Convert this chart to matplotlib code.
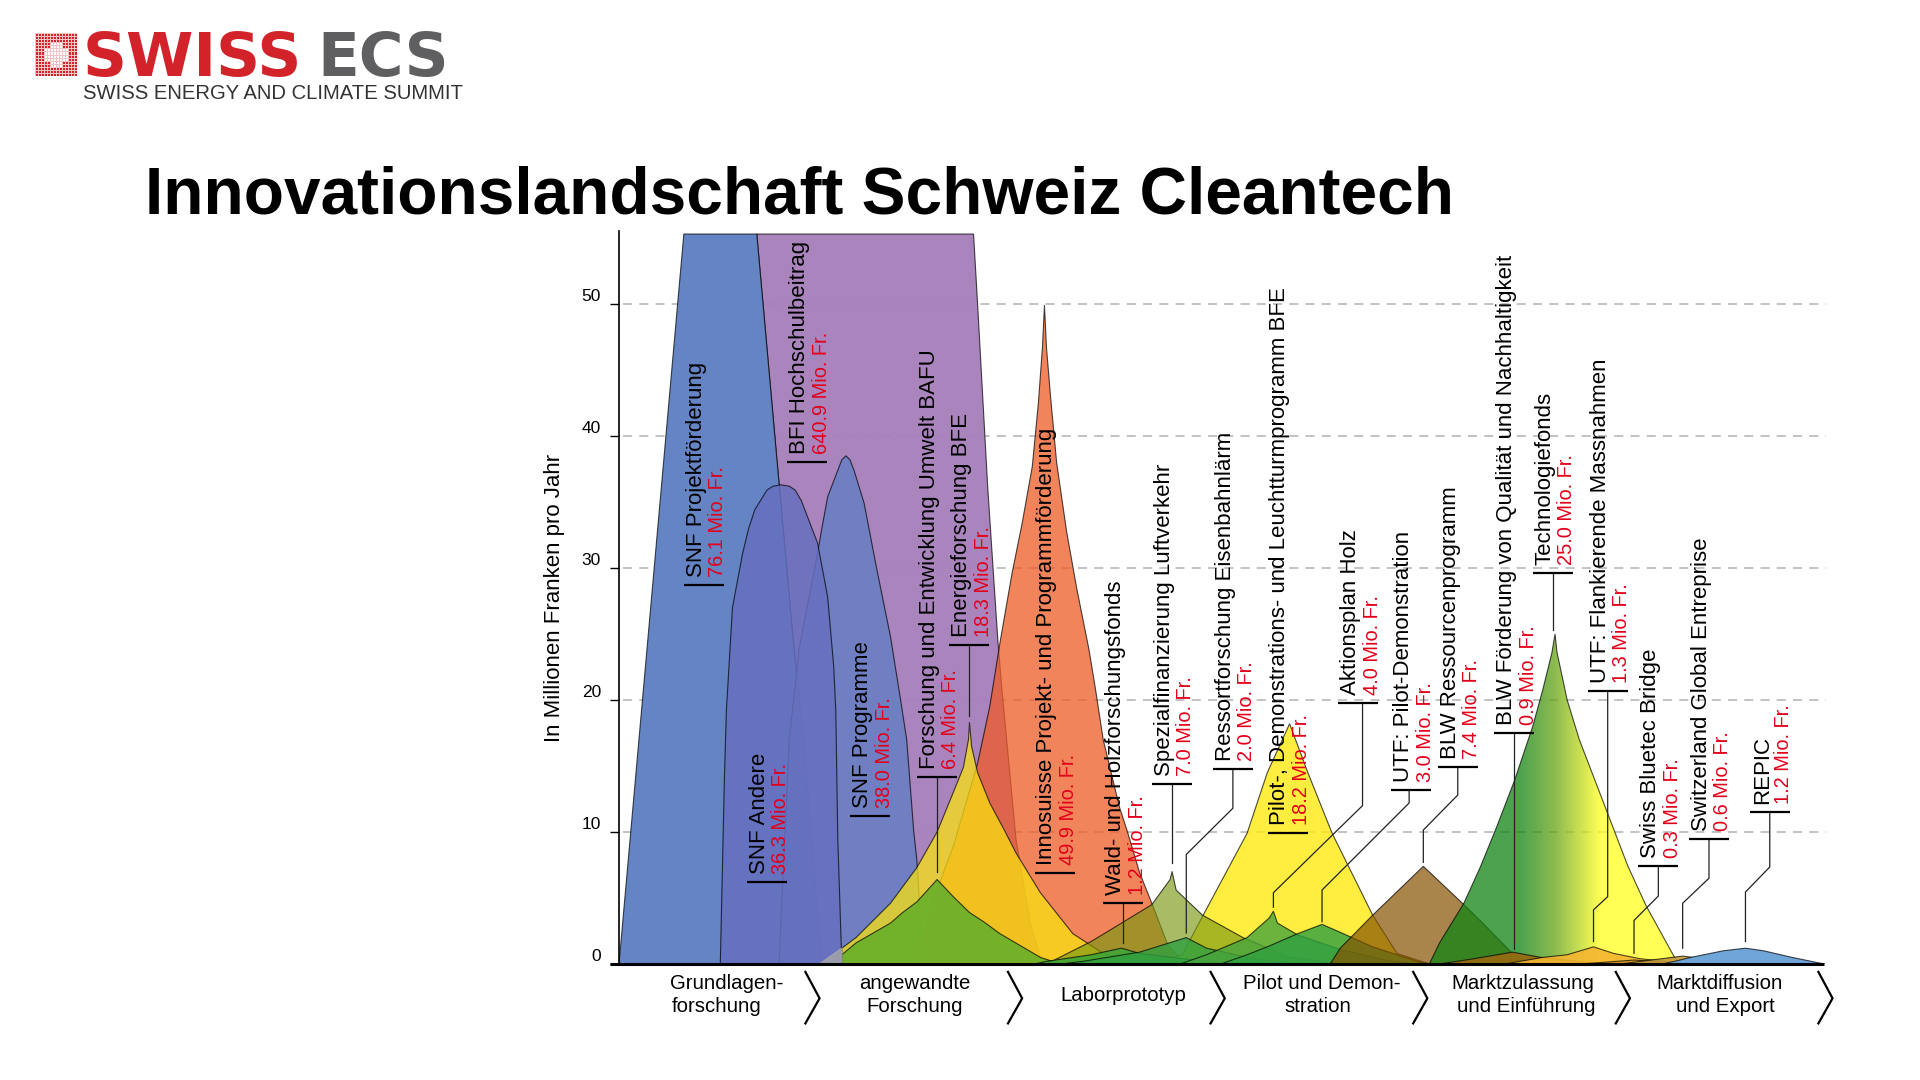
import matplotlib
matplotlib.use("Agg")
import matplotlib.pyplot as plt
import numpy as np
from matplotlib.colors import LinearSegmentedColormap, to_rgba
from matplotlib.patches import Polygon

plt.rcParams['font.family'] = ['Liberation Sans', 'DejaVu Sans']

# x is the position along the innovation chain (1 unit = one stage), y is Mio. Fr. per year
stages = [['Grundlagen-', 'forschung'], ['angewandte', 'Forschung'], ['Laborprototyp'],
          ['Pilot und Demon-', 'stration'], ['Marktzulassung', 'und Einführung'],
          ['Marktdiffusion', 'und Export']]
y_ticks = [0, 10, 20, 30, 40, 50]

names = ['SNF Projektförderung', 'BFI Hochschulbeitrag', 'SNF Andere', 'SNF Programme',
         'Forschung und Entwicklung Umwelt BAFU', 'Energieforschung BFE',
         'Innosuisse Projekt- und Programmförderung', 'Wald- und Holzforschungsfonds',
         'Spezialfinanzierung Luftverkehr', 'Ressortforschung Eisenbahnlärm',
         'Pilot-, Demonstrations- und Leuchtturmprogramm BFE', 'Aktionsplan Holz',
         'UTF: Pilot-Demonstration', 'BLW Ressourcenprogramm',
         'BLW Förderung von Qualität und Nachhaltigkeit', 'Technologiefonds',
         'UTF: Flankierende Massnahmen', 'Swiss Bluetec Bridge',
         'Switzerland Global Entreprise', 'REPIC']
amounts = ['76.1', '640.9', '36.3', '38.0', '6.4', '18.3', '49.9', '1.2', '7.0', '2.0',
           '18.2', '4.0', '3.0', '7.4', '0.9', '25.0', '1.3', '0.3', '0.6', '1.2']

# curves
bfi_x = [1.00, 0.91, 0.86, 0.79, 0.68, 1.75, 1.77, 1.82, 1.87, 1.89, 1.96, 2.03, 2.08, 2.10]
bfi_y = [0, 17.0, 24.5, 36.4, 55.3, 55.3, 50, 36.1, 24.5, 20.8, 9.4, 3.1, 0.5, 0]
snf_projekt_x = [0.00, 0.32, 0.68, 0.79, 0.86, 0.91, 1.00]
snf_projekt_y = [0, 55.3, 55.3, 36.4, 24.5, 17.0, 0]
snf_programme_x = [0.79, 0.84, 0.88, 0.89, 0.98, 1.00, 1.03, 1.08, 1.10, 1.12, 1.14, 1.16, 1.21, 1.27, 1.34, 1.39,
                   1.42, 1.455, 1.47, 1.49, 1.50]
snf_programme_y = [0, 17.0, 22.5, 24.0, 31.1, 32.9, 35.4, 37.4, 38.2, 38.5, 38.2, 37.4, 34.9, 30.1, 24.8, 20.0,
                   17.0, 10.0, 7.9, 3.1, 0]
snf_andere_x = [0.50, 0.51, 0.52, 0.53, 0.56, 0.61, 0.64, 0.67, 0.73, 0.76, 0.80, 0.84, 0.87, 0.90, 0.93, 0.98,
                1.03, 1.06, 1.07, 1.08, 1.10]
snf_andere_y = [0, 6.9, 13.9, 19.2, 27.0, 31.1, 33.0, 34.4, 35.9, 36.2, 36.3, 36.2, 35.9, 35.1, 33.9, 31.9,
                27.8, 22.5, 19.2, 9.4, 0]
inno_x = [1.39, 1.42, 1.50, 1.60, 1.65, 1.77, 1.83, 1.88, 1.94, 1.99, 2.04, 2.07, 2.09, 2.10, 2.11, 2.13, 2.16,
          2.21, 2.26, 2.32, 2.35, 2.39, 2.47, 2.51, 2.57, 2.63, 2.71, 2.78, 2.84]
inno_y = [0, 0.3, 2.3, 6.9, 8.9, 15.2, 19.5, 24.3, 29.6, 33.4, 37.7, 42.5, 46.7, 49.9, 46.7, 43.0, 38.0,
          32.7, 28.4, 23.8, 21.0, 17.0, 11.9, 10, 6.9, 4.6, 1.4, 0.3, 0]
bfe_x = [1.10, 1.10, 1.17, 1.34, 1.47, 1.57, 1.65, 1.70, 1.725, 1.73, 1.74, 1.77, 1.83, 1.90, 1.96, 2.08, 2.24, 2.39, 2.57]
bfe_y = [0, 1.2, 2.0, 4.6, 7.3, 10, 13.0, 14.9, 17.0, 18.3, 16.5, 14.5, 12.2, 10.2, 8.4, 5.4, 2.3, 0.8, 0]
bafu_x = [1.10, 1.10, 1.17, 1.34, 1.40, 1.47, 1.57, 1.65, 1.73, 1.80, 1.88, 2.08, 2.18]
bafu_y = [0, 0.7, 1.6, 3.1, 3.9, 4.7, 6.4, 5.1, 3.9, 3.2, 2.3, 0.5, 0]
sliver_x = [0.99, 1.10, 1.10]
sliver_y = [0, 1.2, 0]
pilot_x = [2.62, 2.78, 2.88, 3.10, 3.20, 3.31, 3.40, 3.52, 3.72, 3.84, 4.00]
pilot_y = [0, 0.7, 3.6, 9.9, 14.5, 18.2, 14.5, 9.9, 3.7, 0.8, 0]
spezial_x = [2.11, 2.33, 2.47, 2.63, 2.72, 2.73, 2.75, 2.88, 3.08, 3.31, 3.56]
spezial_y = [0, 1.7, 3.0, 4.5, 6.4, 7.0, 5.6, 3.7, 2.0, 0.5, 0]
wald_x = [2.05, 2.11, 2.33, 2.48, 2.57, 2.73, 2.95, 3.00]
wald_y = [0, 0.2, 0.7, 1.2, 0.8, 0.5, 0.1, 0]
ressort_x = [2.18, 2.29, 2.57, 2.80, 2.90, 3.10, 3.33]
ressort_y = [0, 0.2, 0.9, 2.0, 1.2, 0.5, 0]
holz_x = [2.77, 2.90, 3.10, 3.21, 3.23, 3.25, 3.35, 3.56, 3.81, 3.94]
holz_y = [0, 0.7, 2.0, 3.5, 4.0, 3.1, 2.2, 1.1, 0.2, 0]
utf_pilot_x = [2.97, 3.10, 3.20, 3.35, 3.47, 3.56, 3.72, 3.94, 4.00]
utf_pilot_y = [0, 0.7, 1.3, 2.3, 3.0, 2.4, 1.3, 0.2, 0]
blw_ress_x = [3.51, 3.56, 3.72, 3.97, 4.17, 4.25, 4.41, 4.51]
blw_ress_y = [0, 1.2, 3.7, 7.4, 4.5, 3.3, 0.8, 0]
techno_x = [4.00, 4.05, 4.17, 4.25, 4.33, 4.42, 4.51, 4.56, 4.605, 4.62, 4.63, 4.68, 4.74, 4.88, 4.98, 5.07, 5.21, 5.24]
techno_y = [0, 1.6, 4.6, 7.3, 10.3, 13.9, 18.0, 20.8, 23.6, 25.0, 23.6, 20.0, 17.0, 11.4, 7.4, 4.4, 0.5, 0]
blw_qual_x = [4.05, 4.22, 4.41, 4.55, 4.80, 4.90]
blw_qual_y = [0, 0.4, 0.9, 0.5, 0.1, 0]
utf_flank_x = [4.38, 4.41, 4.56, 4.68, 4.81, 4.91, 5.04, 5.20, 5.30]
utf_flank_y = [0, 0.1, 0.5, 0.7, 1.3, 0.8, 0.4, 0.15, 0]
bluetec_x = [4.75, 5.01, 5.30]
bluetec_y = [0, 0.3, 0]
sge_x = [4.94, 5.25, 5.45, 5.70]
sge_y = [0, 0.6, 0.2, 0]
repic_x = [5.15, 5.21, 5.29, 5.45, 5.56, 5.65, 5.79, 5.95]
repic_y = [0, 0.2, 0.5, 1.0, 1.2, 1.0, 0.5, 0]

fig = plt.figure(figsize=(19.2, 10.8), dpi=100)
ax = fig.add_axes([619 / 1920, 116 / 1080, 1215.6 / 1920, 732.6 / 1080])
ax.set_xlim(0, 6)
ax.set_ylim(0, 55.5)
for s in ['top', 'right', 'bottom']:
    ax.spines[s].set_visible(False)
ax.spines['left'].set_linewidth(1.2)
ax.set_xticks([])
ax.set_yticks(y_ticks)
ax.tick_params(axis='y', length=6.5, width=1, labelsize=12.5, pad=6.5)
plt.setp(ax.get_yticklabels(), va='bottom')
ax.set_ylabel('In Millionen Franken pro Jahr', fontsize=16, labelpad=0)
ax.yaxis.set_label_coords(-54 / 1215.6, 0.5)

ax.hlines(y_ticks[1:], 0.02, 5.96, colors='#BDBDBD', linestyles=(0, (5, 4)), lw=1.3, zorder=1)


def shape(x, y, color, alpha=1.0, z=2):
    ax.fill(x, y, facecolor=to_rgba(color, alpha), edgecolor=(0, 0, 0, 0.7), lw=0.8, zorder=z, joinstyle='round')


shape(bfi_x, bfi_y, '#A67EBA', 0.95)
shape(snf_projekt_x, snf_projekt_y, '#6484C3')
shape(snf_programme_x, snf_programme_y, '#657FC2', 0.85)
shape(snf_andere_x, snf_andere_y, '#666FBF', 0.85)
shape(inno_x, inno_y, '#EE5B26', 0.75)
shape(bfe_x, bfe_y, '#F9E211', 0.75)
shape(bafu_x, bafu_y, '#6DB12A', 0.95)
ax.fill(sliver_x, sliver_y, color='#A8A8A8', alpha=0.8, zorder=2)
shape(pilot_x, pilot_y, '#FFEA10', 0.8)
shape(spezial_x, spezial_y, '#789812', 0.65)
shape(wald_x, wald_y, '#3FA535', 0.9)
shape(ressort_x, ressort_y, '#2FA040', 0.8)
shape(holz_x, holz_y, '#47A53D', 0.8)
shape(utf_pilot_x, utf_pilot_y, '#2FA040', 0.8)
shape(blw_ress_x, blw_ress_y, '#855100', 0.7)

# Technologiefonds runs from green into yellow
ramp = LinearSegmentedColormap.from_list('techno', [(0, '#118313'), (0.36, '#118313'), (0.5, '#65A415'),
                                                    (0.68, '#FFFF1C'), (1, '#FFFF1C')])
grad = ax.imshow(np.linspace(0, 1, 256)[None, :], cmap=ramp, extent=[4.0, 5.24, 0, 25], aspect='auto',
                 alpha=0.75, zorder=2, interpolation='bilinear')
techno_poly = Polygon(np.column_stack([techno_x, techno_y]), closed=True, facecolor='none',
                      edgecolor=(0, 0, 0, 0.7), lw=0.8, zorder=2)
ax.add_patch(techno_poly)
grad.set_clip_path(techno_poly)
ax.set_xlim(0, 6)
ax.set_ylim(0, 55.5)

shape(blw_qual_x, blw_qual_y, '#9A6A10', 0.9)
shape(utf_flank_x, utf_flank_y, '#F4B530', 0.9)
shape(bluetec_x, bluetec_y, '#D49A24', 0.9)
shape(sge_x, sge_y, '#C39A3E', 0.9)
shape(repic_x, repic_y, '#6FA5D8')

# baseline, stage chevrons and stage names
ax.plot([-0.044, 5.95], [0, 0], color='black', lw=2.2, clip_on=False, zorder=6, solid_capstyle='butt')
for k in range(6):
    tip = k + 0.99
    ax.plot([tip - 0.07, tip, tip - 0.07], [-0.6, -2.6, -4.5], color='black', lw=1.6, clip_on=False)

stage_x = [[0.53, 0.48], [1.46, 1.46], [2.49], [3.47, 3.45], [4.46, 4.48], [5.43, 5.46]]
for lines, xs in zip(stages, stage_x):
    ys = [-2.4] if len(lines) == 1 else [-1.5, -3.2]
    for line, lx, ly in zip(lines, xs, ys):
        ax.text(lx, ly, line, fontsize=14.7, ha='center', va='center', clip_on=False)

# label bars: stage position and height of each bar
bar_x = [0.42, 0.93, 0.73, 1.24, 1.57, 1.73, 2.15, 2.49, 2.73, 3.03, 3.30, 3.65, 3.91, 4.14,
         4.42, 4.61, 4.88, 5.13, 5.38, 5.68]
bar_y = [28.7, 38.0, 6.2, 11.2, 14.2, 24.2, 6.9, 4.6, 13.6, 14.8, 9.9, 19.8, 13.2, 14.9,
         17.5, 29.6, 20.7, 7.4, 9.5, 11.5]
half_w = 20 / 202.6
for name, amount, bx, by in zip(names, amounts, bar_x, bar_y):
    ax.plot([bx - half_w, bx + half_w], [by, by], color='black', lw=1.6, zorder=7, solid_capstyle='butt')
    ax.annotate(name, (bx, by), xytext=(-5.5, 5.8), textcoords='offset points', rotation=90,
                ha='center', va='bottom', fontsize=16, zorder=8)
    ax.annotate(amount + ' Mio. Fr.', (bx, by), xytext=(10, 5.8), textcoords='offset points', rotation=90,
                ha='center', va='bottom', fontsize=14.4, color='#E2001A', zorder=8)

leaders = [([1.57, 1.57], [14.2, 7.0]), ([1.73, 1.73], [24.2, 18.8]), ([2.49, 2.49], [4.6, 1.6]),
           ([2.73, 2.73], [13.6, 7.65]), ([3.03, 3.03, 2.80, 2.80], [14.8, 11.8, 8.3, 2.35]),
           ([3.67, 3.67, 3.23, 3.23], [19.8, 12.0, 5.4, 4.3]), ([3.90, 3.90, 3.47, 3.47], [13.2, 12.2, 5.6, 3.2]),
           ([4.14, 4.14, 3.97, 3.97], [14.9, 12.8, 10.15, 7.7]), ([4.42, 4.42], [17.5, 1.1]),
           ([4.61, 4.61], [29.6, 25.3]), ([4.88, 4.88, 4.81, 4.81], [20.7, 5.1, 4.1, 1.7]),
           ([5.13, 5.13, 5.01, 5.01], [7.4, 5.15, 3.3, 0.8]), ([5.38, 5.38, 5.25, 5.25], [9.5, 6.5, 4.6, 1.2]),
           ([5.68, 5.68, 5.56, 5.56], [11.5, 7.35, 5.45, 1.7])]
for lx, ly in leaders:
    ax.plot(lx, ly, color='#222222', lw=0.9, zorder=6)

fig.text(145 / 1920, 1 - 213 / 1080, 'Innovationslandschaft Schweiz Cleantech', fontsize=47.3,
         fontweight='bold', color='black', va='baseline')

# logo
fig.text(83 / 1920, 1 - 76 / 1080, 'SWISS', family='DejaVu Sans', fontweight='bold', fontsize=44,
         color='#D2232A', va='baseline')
fig.text(317 / 1920, 1 - 76 / 1080, 'ECS', family='DejaVu Sans', fontweight='bold', fontsize=44,
         color='#5F5F61', va='baseline')
fig.text(83 / 1920, 1 - 99 / 1080, 'SWISS ENERGY AND CLIMATE SUMMIT', fontsize=14.6, color='#333333', va='baseline')
logo = fig.add_axes([35 / 1920, 1 - 76 / 1080, 42 / 1920, 43 / 1080])
cells = np.ones((14, 14))
cells[3:11, 5:9] = 0
cells[5:9, 3:11] = 0
logo.pcolormesh(cells, cmap=LinearSegmentedColormap.from_list('cross', ['white', '#D2232A']),
                edgecolors='#F3C4C6', linewidth=0.5)
logo.axis('off')

fig.savefig('out.png', dpi=100)
